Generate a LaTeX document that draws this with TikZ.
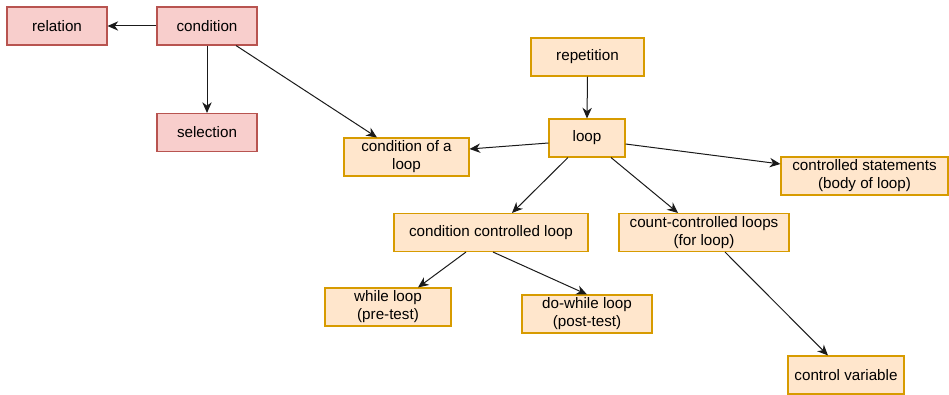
\documentclass[tikz,border=0pt]{standalone}
\usepackage{fontspec}
\setmainfont{Liberation Sans}
\usetikzlibrary{arrows.meta,calc}
\definecolor{pinkfill}{HTML}{F8CECC}
\definecolor{pinkline}{HTML}{B85450}
\definecolor{orfill}{HTML}{FFE6CC}
\definecolor{orline}{HTML}{D79B00}
\definecolor{arrowcol}{HTML}{1A1A1A}
\begin{document}
\begin{tikzpicture}[x=0.75pt,y=-0.75pt,
  base/.style={rectangle,inner sep=0pt,align=center,line width=0.8pt,
    font=\fontsize{11.4}{13.5}\selectfont,minimum height=28.5pt},
  pinkbox/.style={base,fill=pinkfill,draw=pinkline},
  orbox/.style={base,fill=orfill,draw=orline},
  conn/.style={draw=arrowcol,line width=0.75pt,-{Stealth[length=8pt,width=7pt,inset=2.5pt]}}]
\useasboundingbox (0,0) rectangle (949,395);
\node[pinkbox,minimum width=75pt] (rel) at (57,26) {relation};
\node[pinkbox,minimum width=75pt] (cond) at (207,26) {condition};
\node[pinkbox,minimum width=75pt] (sel) at (207,132.5) {selection};
\node[orbox,minimum width=93.75pt] (col) at (406.5,157) {condition of a\\loop};
\node[orbox,minimum width=84.75pt] (rep) at (587.5,57) {repetition};
\node[orbox,minimum width=57pt] (loop) at (587,138) {loop};
\node[orbox,minimum width=125.25pt] (cs) at (864.5,176) {controlled statements\\(body of loop)};
\node[orbox,minimum width=145.5pt] (ccl) at (491,232.5) {condition controlled loop};
\node[orbox,minimum width=127.5pt] (cnt) at (704,232.5) {count-controlled loops\\(for loop)};
\node[orbox,minimum width=94.5pt] (wl) at (388,307) {while loop\\(pre-test)};
\node[orbox,minimum width=97.5pt] (dw) at (587,314) {do-while loop\\(post-test)};
\node[orbox,minimum width=87pt] (cv) at (846,375) {control variable};
\draw[conn] (cond.west) -- (rel.east);
\draw[conn] (cond.south) -- (sel.north);
\draw[conn] ($(cond.south)+(29,0)$) -- ($(col.north)+(-29.5,0)$);
\draw[conn] ($(loop.west)+(0,5)$) -- ($(col.east)+(0,-8)$);
\draw[conn] (rep.south) -- (loop.north);
\draw[conn] ($(loop.east)+(0,6)$) -- ($(cs.west)+(0,-12)$);
\draw[conn] ($(loop.south)+(-19,0)$) -- ($(ccl.north)+(21,0)$);
\draw[conn] ($(loop.south)+(24,0)$) -- ($(cnt.north)+(-26,0)$);
\draw[conn] ($(ccl.south)+(-25,0)$) -- ($(wl.north)+(30,0)$);
\draw[conn] ($(ccl.south)+(2,0)$) -- (dw.north);
\draw[conn] ($(cnt.south)+(21,0)$) -- ($(cv.north)+(-18,0)$);
\end{tikzpicture}
\end{document}
